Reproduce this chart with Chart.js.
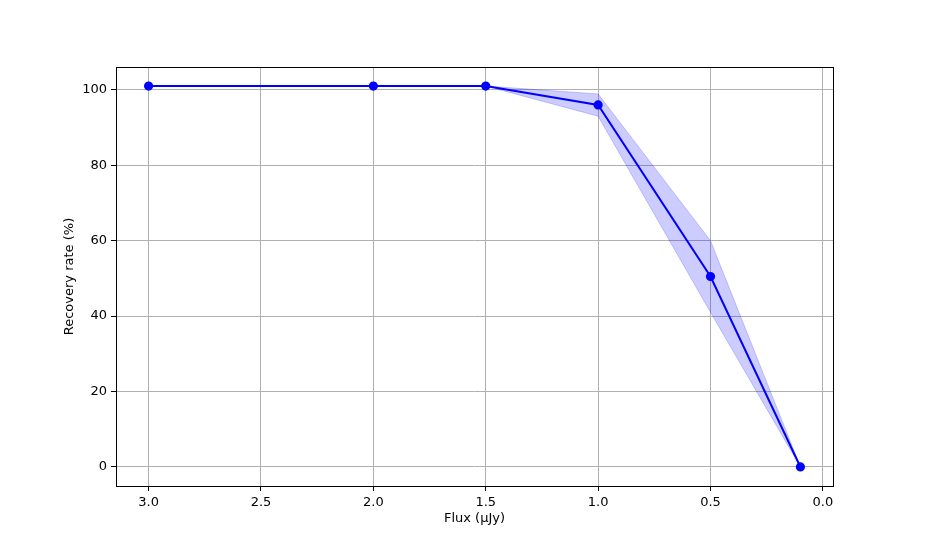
<!DOCTYPE html>
<html>
<head>
<meta charset="utf-8">
<script src="https://cdn.jsdelivr.net/npm/chart.js@4"></script>
<style>
  html, body { margin: 0; padding: 0; background: #fff; }
  #wrap { width: 926px; height: 556px; }
</style>
</head>
<body>
<div id="wrap"><canvas id="recoveryChart" width="926" height="556"></canvas></div>
<script>
// flux bins (uJy) and recovery rate with its spread
const flux = [3.0, 2.0, 1.5, 1.0, 0.5, 0.1];
const rate = [101, 101, 101, 96, 50.5, 0];
const rateUpper = [101, 101, 101, 98.9, 60, 0];
const rateLower = [101, 101, 101, 93, 41, 0];
const xTicks = [3.0, 2.5, 2.0, 1.5, 1.0, 0.5, 0.0];
const yTicks = [0, 20, 40, 60, 80, 100];
const xTitle = 'Flux (μJy)';
const yTitle = 'Recovery rate (%)';

const toPoints = vals => flux.map((f, i) => ({ x: f, y: vals[i] }));

const font = { family: 'DejaVu Sans', size: 13 };

// matplotlib-style box around the axes, plus the two axis titles
const frame = {
  id: 'frame',
  afterDraw(chart) {
    const { ctx, chartArea: a } = chart;
    ctx.save();
    ctx.strokeStyle = '#000';
    ctx.lineWidth = 1;
    ctx.strokeRect(Math.round(a.left) + 0.5, Math.round(a.top) + 0.5,
      Math.round(a.right - a.left), Math.round(a.bottom - a.top));

    ctx.fillStyle = '#000';
    ctx.font = `${font.size}px "${font.family}"`;
    ctx.textAlign = 'center';
    ctx.textBaseline = 'middle';
    ctx.fillText(xTitle, (a.left + a.right) / 2, a.bottom + 33);
    ctx.translate(a.left - 46, (a.top + a.bottom) / 2);
    ctx.rotate(-Math.PI / 2);
    ctx.fillText(yTitle, 0, 0);
    ctx.restore();
  }
};

const chart = new Chart(document.getElementById('recoveryChart').getContext('2d'), {
  type: 'scatter',
  data: {
    datasets: [
      {
        label: 'Recovery rate',
        data: toPoints(rate),
        showLine: true,
        borderColor: '#0000ff',
        backgroundColor: '#0000ff',
        borderWidth: 2,
        pointRadius: 3.6,
        pointHoverRadius: 3.6,
        order: 0
      },
      {
        label: 'lower',
        data: toPoints(rateLower),
        showLine: true,
        borderColor: 'rgba(0,0,255,0.2)',
        borderWidth: 1,
        pointRadius: 0,
        fill: false,
        order: 2
      },
      {
        label: 'upper',
        data: toPoints(rateUpper),
        showLine: true,
        borderColor: 'rgba(0,0,255,0.2)',
        backgroundColor: 'rgba(0,0,255,0.2)',
        borderWidth: 1,
        pointRadius: 0,
        fill: 1,
        order: 1
      }
    ]
  },
  options: {
    responsive: false,
    animation: false,
    layout: { padding: { left: 0, top: 67, right: 93, bottom: 0 } },
    plugins: {
      legend: { display: false },
      tooltip: { enabled: false },
      filler: { propagate: false }
    },
    scales: {
      x: {
        type: 'linear',
        reverse: true,
        min: -0.045,
        max: 3.145,
        afterBuildTicks: s => { s.ticks = xTicks.map(v => ({ value: v })); },
        afterFit: s => { s.height = 70; },
        ticks: {
          color: '#000',
          font: font,
          padding: 4,
          maxRotation: 0,
          callback: v => v.toFixed(1)
        },
        grid: { color: '#b0b0b0', lineWidth: 1, tickColor: '#000', tickLength: 5 },
        border: { display: false }
      },
      y: {
        min: -5.05,
        max: 106.05,
        afterBuildTicks: s => { s.ticks = yTicks.map(v => ({ value: v })); },
        afterFit: s => { s.width = 116; },
        ticks: { color: '#000', font: font, padding: 4 },
        grid: { color: '#b0b0b0', lineWidth: 1, tickColor: '#000', tickLength: 5 },
        border: { display: false }
      }
    }
  },
  plugins: [frame]
});
</script>
</body>
</html>
